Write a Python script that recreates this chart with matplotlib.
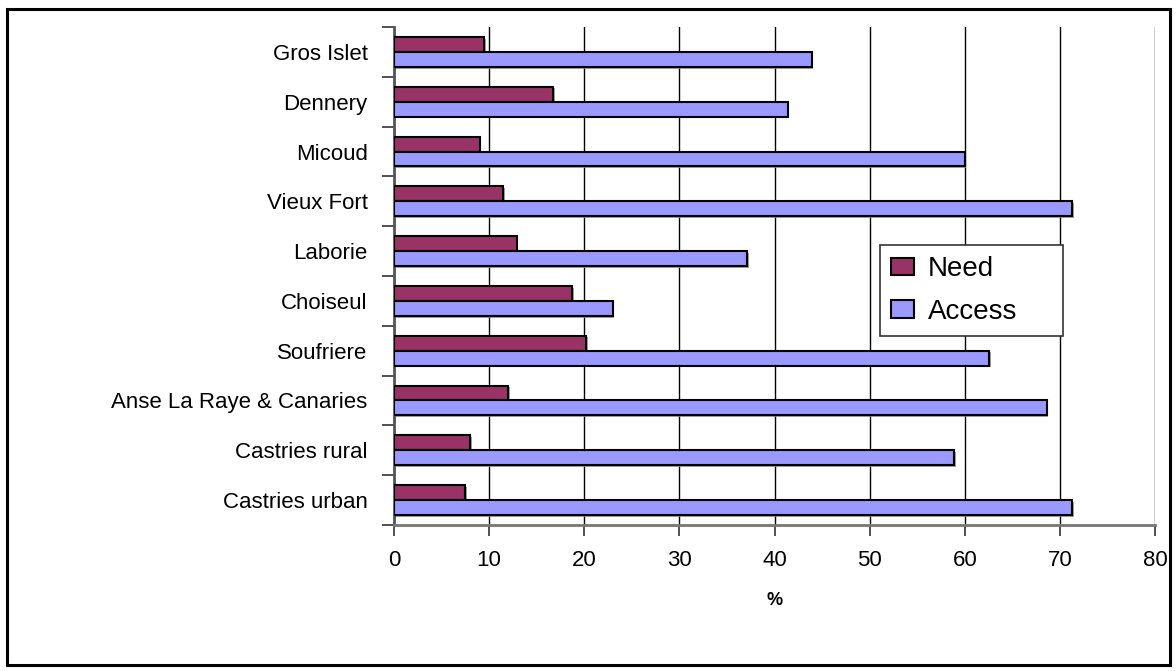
import numpy as np
import matplotlib
matplotlib.use('Agg')
import matplotlib.pyplot as plt
import matplotlib.patheffects as pe
from matplotlib.patches import Rectangle

# DATA (bottom to top, as drawn)
regions = ['Castries urban', 'Castries rural', 'Anse La Raye & Canaries', 'Soufriere',
           'Choiseul', 'Laborie', 'Vieux Fort', 'Micoud', 'Dennery', 'Gros Islet']
need = [7.5, 8.0, 12.0, 20.2, 18.7, 12.9, 11.5, 9.0, 16.7, 9.5]
access = [71.3, 58.9, 68.6, 62.6, 23.0, 37.1, 71.3, 60.0, 41.4, 43.9]
xticks = [0, 10, 20, 30, 40, 50, 60, 70, 80]

need_color = '#993366'
access_color = '#9999FF'

plt.rcParams['font.family'] = ['Liberation Sans', 'DejaVu Sans']

fig = plt.figure(figsize=(11.76, 6.71), dpi=100)
fig.patch.set_facecolor('white')
ax = fig.add_axes([394/1176, 1 - 525/671, (1155 - 394)/1176, (525 - 27)/671])

# outer frame of the chart area
fig.patches.append(Rectangle((7/1176, 1 - 665/671), (1170 - 7)/1176, (665 - 9)/671,
                             transform=fig.transFigure, fill=False, edgecolor='black',
                             linewidth=2.2, zorder=0))

y = np.arange(len(regions))
h = 0.3
shadow = [pe.SimplePatchShadow(offset=(1.2, -1.2), shadow_rgbFace='#888888', alpha=0.8), pe.Normal()]

b1 = ax.barh(y + h/2, need, height=h, color=need_color, edgecolor='black', linewidth=1.5,
             label='Need', zorder=3)
b2 = ax.barh(y - h/2, access, height=h, color=access_color, edgecolor='black', linewidth=1.5,
             label='Access', zorder=3)
for bar in list(b1) + list(b2):
    bar.set_path_effects(shadow)

# AXES
ax.set_xlim(0, 80)
ax.set_ylim(-0.5, len(regions) - 0.5)
ax.set_xticks(xticks)
ax.set_xticklabels([str(v) for v in xticks], fontsize=16)
ax.set_yticks(y)
ax.set_yticklabels(regions, fontsize=16)
ax.set_yticks(np.arange(len(regions) + 1) - 0.5, minor=True)
ax.tick_params(axis='y', which='major', length=0, pad=19)
ax.tick_params(axis='y', which='minor', length=9, width=1.2, color='#333333')
ax.tick_params(axis='x', length=8, width=1.2, pad=10, color='#333333')

ax.grid(axis='x', color='black', linewidth=1.0, zorder=0)
ax.set_axisbelow(True)
for s in ['top', 'right']:
    ax.spines[s].set_visible(False)
ax.spines['left'].set_color('#555555')
ax.spines['left'].set_linewidth(2)
ax.spines['bottom'].set_color('#777777')
ax.spines['bottom'].set_linewidth(2)

ax.set_xlabel('%', fontsize=13, fontweight='bold')
ax.xaxis.set_label_coords(0.5, -0.135)

leg = ax.legend(loc='upper left', bbox_to_anchor=(0.639, 0.38, 0.24, 0.182), mode='expand',
                fontsize=20, frameon=True, fancybox=False, framealpha=1,
                edgecolor='#333333', borderpad=0.4, labelspacing=0.6,
                handlelength=0.8, handleheight=0.6, handletextpad=0.5, borderaxespad=0)
leg.get_frame().set_linewidth(1.2)
for hnd in leg.legend_handles:
    hnd.set_path_effects([])

fig.savefig('out.png', dpi=100)
